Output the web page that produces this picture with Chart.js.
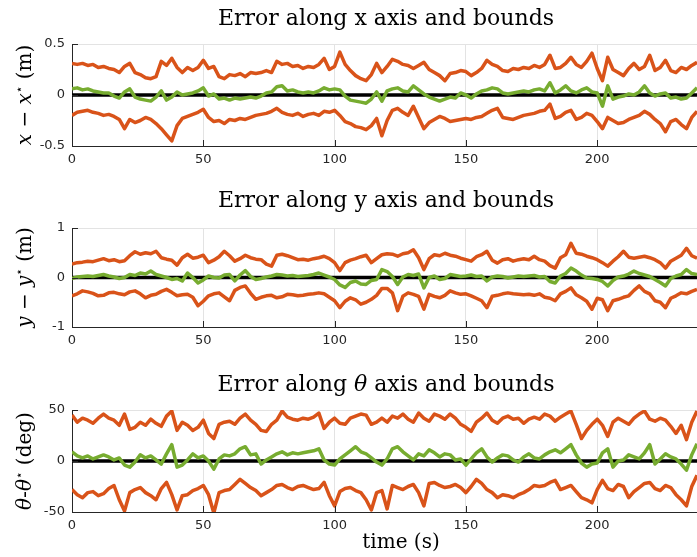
<!DOCTYPE html>
<html><head><meta charset="utf-8">
<script src="https://cdn.jsdelivr.net/npm/chart.js@4/dist/chart.umd.min.js"></script>
<style>
html,body{margin:0;padding:0;background:#fff;overflow:hidden}
#wrap{position:relative;width:697px;height:557px;background:#fff}
#wrap canvas{position:absolute;left:0;top:0}
</style></head><body>
<div id="wrap">
<canvas id="c1" width="697" height="557"></canvas>
<canvas id="c2" width="697" height="557"></canvas>
<canvas id="c3" width="697" height="557"></canvas>
</div>
<script>
// ---- data (time in s, sampled every 2 s) ----
const timeS = [0,2,4,6,8,10,12,14,16,18,20,22,24,26,28,30,32,34,36,38,40,42,44,46,48,50,52,54,56,58,60,62,64,66,68,70,72,74,76,78,80,82,84,86,88,90,92,94,96,98,100,102,104,106,108,110,112,114,116,118,120,122,124,126,128,130,132,134,136,138,140,142,144,146,148,150,152,154,156,158,160,162,164,166,168,170,172,174,176,178,180,182,184,186,188,190,192,194,196,198,200,202,204,206,208,210,212,214,216,218,220,222,224,226,228,230,232,234,236,238];
const zeroT = [0, 250];
const zeroV = [0, 0];
const xTickValues = [0, 50, 100, 150, 200];

// x error (m)
const xUpper = [0.31,0.30,0.31,0.29,0.30,0.27,0.28,0.26,0.25,0.22,0.28,0.31,0.22,0.20,0.17,0.16,0.18,0.33,0.29,0.36,0.27,0.22,0.27,0.24,0.27,0.34,0.26,0.28,0.18,0.16,0.20,0.19,0.21,0.18,0.22,0.21,0.22,0.24,0.22,0.33,0.30,0.31,0.28,0.29,0.26,0.28,0.27,0.30,0.36,0.25,0.28,0.42,0.30,0.24,0.19,0.16,0.14,0.20,0.31,0.22,
0.28,0.35,0.33,0.30,0.29,0.26,0.29,0.32,0.25,0.22,0.19,0.14,0.21,0.22,0.24,0.23,0.19,0.22,0.26,0.34,0.30,0.28,0.24,0.23,0.26,0.25,0.27,0.26,0.29,0.27,0.30,0.39,0.26,0.27,0.31,0.37,0.30,0.27,0.33,0.41,0.26,0.14,0.37,0.25,0.22,0.19,0.26,0.31,0.25,0.28,0.39,0.24,0.27,0.34,0.24,0.22,0.27,0.25,0.29,0.32];
const xErr = [0.06,0.07,0.05,0.06,0.04,0.03,0.02,0.02,-0.01,-0.03,0.03,0.06,-0.02,-0.04,-0.05,-0.06,-0.02,0.04,-0.05,-0.02,0.03,0.00,0.01,0.02,0.04,0.07,-0.01,0.01,-0.04,-0.03,-0.05,-0.03,-0.04,-0.03,-0.02,-0.03,-0.01,0.02,0.03,0.08,0.09,0.04,0.05,0.03,0.02,0.03,0.02,0.04,0.07,0.05,0.06,0.05,-0.01,-0.05,-0.06,-0.07,-0.08,-0.04,0.03,-0.06,
0.04,0.06,0.07,0.04,0.03,0.09,0.05,0.01,-0.02,-0.04,-0.06,-0.04,-0.02,-0.03,0.02,0.00,-0.03,0.01,0.04,0.05,0.07,0.06,0.02,0.01,0.02,0.03,0.04,0.03,0.05,0.06,0.04,0.12,0.02,0.05,0.09,0.04,0.02,0.05,0.07,0.03,0.02,-0.11,0.09,-0.04,-0.02,-0.01,0.01,0.00,0.03,0.09,0.02,-0.01,0.01,0.02,-0.03,-0.02,-0.04,-0.03,0.02,0.07];
const xLower = [-0.20,-0.17,-0.16,-0.15,-0.17,-0.18,-0.20,-0.19,-0.21,-0.24,-0.33,-0.24,-0.27,-0.25,-0.22,-0.24,-0.28,-0.33,-0.39,-0.45,-0.30,-0.23,-0.21,-0.19,-0.17,-0.14,-0.22,-0.26,-0.25,-0.28,-0.24,-0.25,-0.23,-0.24,-0.22,-0.20,-0.19,-0.18,-0.16,-0.13,-0.17,-0.19,-0.20,-0.18,-0.21,-0.19,-0.18,-0.20,-0.16,-0.17,-0.15,-0.20,-0.26,-0.28,-0.31,-0.32,-0.34,-0.30,-0.23,-0.40,
-0.25,-0.15,-0.13,-0.17,-0.20,-0.11,-0.22,-0.33,-0.27,-0.24,-0.21,-0.23,-0.26,-0.25,-0.24,-0.23,-0.24,-0.22,-0.21,-0.18,-0.15,-0.13,-0.22,-0.23,-0.24,-0.22,-0.20,-0.19,-0.18,-0.16,-0.15,-0.09,-0.23,-0.21,-0.17,-0.15,-0.24,-0.22,-0.18,-0.20,-0.26,-0.33,-0.22,-0.25,-0.28,-0.27,-0.24,-0.22,-0.20,-0.16,-0.19,-0.24,-0.28,-0.36,-0.26,-0.24,-0.29,-0.33,-0.22,-0.16];
const xYTicks = [-0.5, 0, 0.5];

// y error (m)
const yUpper = [0.27,0.30,0.31,0.33,0.32,0.35,0.38,0.34,0.36,0.32,0.34,0.44,0.52,0.47,0.50,0.48,0.53,0.40,0.37,0.35,0.25,0.40,0.47,0.39,0.41,0.45,0.30,0.35,0.42,0.53,0.44,0.33,0.38,0.45,0.40,0.37,0.36,0.27,0.23,0.45,0.47,0.44,0.40,0.36,0.37,0.35,0.38,0.40,0.43,0.38,0.30,0.14,0.30,0.35,0.38,0.42,0.45,0.30,0.38,0.46,
0.48,0.47,0.43,0.48,0.50,0.56,0.40,0.16,0.38,0.46,0.44,0.49,0.45,0.43,0.39,0.36,0.33,0.42,0.46,0.53,0.35,0.29,0.36,0.38,0.33,0.36,0.38,0.36,0.43,0.36,0.33,0.24,0.19,0.40,0.46,0.69,0.49,0.47,0.43,0.40,0.36,0.30,0.23,0.33,0.42,0.53,0.41,0.39,0.41,0.43,0.40,0.36,0.30,0.19,0.33,0.39,0.45,0.59,0.44,0.39];
const yErr = [-0.02,0.01,0.02,0.03,0.02,0.04,0.06,0.03,0.01,-0.02,0.00,0.06,0.04,0.09,0.07,0.13,0.06,0.03,0.00,-0.04,-0.02,-0.07,0.09,0.00,-0.11,-0.05,0.03,0.00,-0.01,0.05,0.06,-0.07,0.05,0.14,0.02,-0.04,-0.02,0.01,0.03,0.06,0.05,0.03,0.04,0.02,0.03,0.04,0.06,0.09,0.05,0.01,-0.04,-0.15,-0.20,-0.10,-0.07,-0.13,-0.14,-0.06,-0.04,0.16,
0.12,0.02,-0.14,0.01,0.06,0.04,0.07,-0.21,0.00,0.03,-0.04,-0.02,0.06,0.04,0.02,0.03,0.05,0.02,0.03,-0.07,0.01,0.03,0.02,-0.01,0.01,0.03,0.02,0.03,0.04,0.01,0.02,-0.08,-0.11,0.03,0.08,0.19,0.13,0.05,-0.01,-0.02,-0.04,-0.08,-0.17,-0.06,0.01,0.03,0.07,0.13,0.08,0.05,0.02,-0.04,-0.10,-0.17,-0.02,0.03,0.06,0.16,0.08,0.06];
const yLower = [-0.37,-0.33,-0.27,-0.29,-0.32,-0.37,-0.36,-0.31,-0.30,-0.33,-0.35,-0.29,-0.27,-0.33,-0.41,-0.36,-0.34,-0.28,-0.24,-0.30,-0.37,-0.35,-0.34,-0.40,-0.57,-0.48,-0.37,-0.33,-0.31,-0.39,-0.47,-0.26,-0.20,-0.17,-0.32,-0.44,-0.40,-0.37,-0.36,-0.41,-0.39,-0.34,-0.35,-0.37,-0.36,-0.34,-0.33,-0.31,-0.33,-0.40,-0.47,-0.61,-0.48,-0.41,-0.45,-0.54,-0.50,-0.44,-0.36,-0.22,
-0.22,-0.31,-0.67,-0.38,-0.31,-0.34,-0.38,-0.64,-0.34,-0.38,-0.41,-0.36,-0.27,-0.31,-0.34,-0.33,-0.37,-0.42,-0.47,-0.61,-0.38,-0.36,-0.33,-0.31,-0.33,-0.34,-0.35,-0.34,-0.36,-0.33,-0.40,-0.42,-0.47,-0.33,-0.28,-0.21,-0.35,-0.41,-0.48,-0.64,-0.42,-0.45,-0.67,-0.47,-0.44,-0.40,-0.37,-0.26,-0.17,-0.28,-0.33,-0.47,-0.50,-0.61,-0.42,-0.37,-0.31,-0.33,-0.28,-0.24];
const yYTicks = [-1, 0, 1];

// theta error (deg)
const thUpper = [45,38,42,40,37,42,46,42,40,35,46,31,33,38,35,41,37,34,44,49,30,38,35,30,33,40,27,22,36,38,39,36,42,46,40,36,30,29,36,40,49,43,41,40,42,41,43,47,32,38,42,37,36,42,44,46,45,36,38,42,
38,44,42,46,41,38,47,42,39,46,44,41,46,42,36,33,29,38,42,47,40,37,42,44,41,42,37,41,43,41,46,44,39,43,46,49,36,22,30,36,41,35,24,38,42,39,36,42,46,49,41,39,42,40,34,27,35,21,38,49];
const thErr = [9,5,3,5,2,4,6,4,1,3,-4,-6,-1,6,3,5,1,-3,7,16,-6,-4,1,7,3,5,0,-8,2,6,5,7,12,14,6,7,-3,1,4,7,9,6,8,7,8,9,10,12,1,-3,-4,2,6,10,14,9,7,3,-1,-4,
2,12,14,9,5,1,7,5,11,8,4,7,6,1,2,-4,2,8,12,4,-1,3,6,5,1,-1,4,7,3,2,6,9,11,8,12,16,6,-2,-6,-3,-2,8,12,-6,0,1,6,4,2,8,16,-3,2,7,4,2,-3,-9,6,17];
const thLower = [-28,-33,-36,-31,-30,-34,-32,-27,-24,-38,-49,-31,-28,-26,-31,-34,-38,-27,-21,-33,-48,-34,-33,-29,-27,-24,-33,-51,-31,-29,-28,-23,-18,-22,-26,-29,-34,-31,-28,-24,-23,-26,-28,-25,-24,-26,-28,-27,-21,-34,-44,-30,-27,-26,-29,-31,-38,-48,-31,-29,
-47,-24,-26,-28,-25,-23,-31,-44,-22,-21,-24,-26,-25,-23,-26,-31,-25,-18,-22,-28,-31,-36,-33,-34,-36,-33,-31,-28,-24,-25,-24,-21,-19,-28,-26,-24,-30,-36,-38,-41,-28,-19,-27,-29,-23,-25,-36,-30,-26,-22,-21,-27,-29,-24,-26,-33,-38,-44,-25,-14];
const thYTicks = [-50, 0, 50];

// ---- styling ----
const ORANGE = '#D95319', GREEN = '#77AC30', AXIS = '#262626', GRID = '#e3e3e3';
const X_MAX = 238, XH = 20, YW = 72, H = 557;
const SERIF = '"DejaVu Serif", "Liberation Serif", serif';

function fontFor(style, size) {
  if (style === 'i') return 'italic ' + size + 'px ' + SERIF;
  if (style === 's') return Math.round(size * 0.62) + 'px "DejaVu Sans", ' + SERIF;
  return size + 'px ' + SERIF;
}
function drawSegs(ctx, segs, cx, cy, size) {
  let total = 0;
  const w = segs.map(([t, s]) => { ctx.font = fontFor(s, size); const m = ctx.measureText(t).width; total += m; return m; });
  let x = cx - total / 2;
  ctx.textAlign = 'left'; ctx.textBaseline = 'alphabetic'; ctx.fillStyle = '#000';
  segs.forEach(([t, s], i) => {
    ctx.font = fontFor(s, size);
    ctx.fillText(t, x, s === 's' ? cy - size * 0.42 : cy);
    x += w[i];
  });
}

const decor = {
  id: 'decor',
  afterDraw(chart, args, o) {
    const ctx = chart.ctx, a = chart.chartArea, xs = chart.scales.x, ys = chart.scales.y;
    ctx.save();
    ctx.strokeStyle = AXIS; ctx.lineWidth = 1;
    xs.ticks.forEach(t => {
      const px = Math.round(xs.getPixelForValue(t.value)) + 0.5;
      ctx.beginPath(); ctx.moveTo(px, a.bottom); ctx.lineTo(px, a.bottom - 6); ctx.stroke();
    });
    ys.ticks.forEach(t => {
      const py = Math.round(ys.getPixelForValue(t.value)) + 0.5;
      ctx.beginPath(); ctx.moveTo(a.left, py); ctx.lineTo(a.left + 6, py); ctx.stroke();
    });
    drawSegs(ctx, o.title, o.titleX, o.titleY, 22);
    ctx.save();
    ctx.translate(o.ylabX, (a.top + a.bottom) / 2);
    ctx.rotate(-Math.PI / 2);
    drawSegs(ctx, o.ylabel, 0, 0, 20);
    ctx.restore();
    if (o.xlabel) drawSegs(ctx, o.xlabel, o.xlabX, o.xlabY, 20);
    ctx.restore();
  }
};

function pts(vals) { return vals.map((v, i) => ({ x: timeS[i], y: v })); }

function makeChart(id, p) {
  const line = (data, color) => ({ data, borderColor: color, borderWidth: 3.5, borderJoinStyle: 'round', pointRadius: 0, tension: 0, fill: false, clip: 0 });
  return new Chart(document.getElementById(id), {
    type: 'line',
    data: {
      datasets: [
        line(pts(p.err), GREEN),
        line(zeroT.map((t, i) => ({ x: t, y: zeroV[i] })), '#000'),
        line(pts(p.upper), ORANGE),
        line(pts(p.lower), ORANGE)
      ]
    },
    options: {
      responsive: false, animation: false, devicePixelRatio: 1,
      layout: { padding: { top: p.top, bottom: H - p.bottom - XH, left: 0, right: 0 } },
      plugins: {
        legend: { display: false }, tooltip: { enabled: false }, title: { display: false },
        decor: { title: p.title, titleX: 386, titleY: p.titleY, ylabel: p.ylabel, ylabX: 31, xlabel: p.xlabel, xlabX: 401, xlabY: 548 }
      },
      scales: {
        x: {
          type: 'linear', min: 0, max: X_MAX,
          afterBuildTicks: s => { s.ticks = xTickValues.map(v => ({ value: v })); },
          afterFit: s => { s.height = XH; },
          grid: { color: GRID, drawTicks: false, lineWidth: 1 },
          border: { color: AXIS, width: 1 },
          ticks: { padding: 6, color: AXIS, font: { family: 'DejaVu Sans', size: 13 }, maxRotation: 0, autoSkip: false }
        },
        y: {
          type: 'linear', min: p.yTicks[0], max: p.yTicks[p.yTicks.length - 1],
          afterBuildTicks: s => { s.ticks = p.yTicks.map(v => ({ value: v })); },
          afterFit: s => { s.width = YW; },
          grid: { color: GRID, drawTicks: false, lineWidth: 1 },
          border: { color: AXIS, width: 1 },
          ticks: { padding: 7, color: AXIS, font: { family: 'DejaVu Sans', size: 13 } }
        }
      }
    },
    plugins: [decor]
  });
}

makeChart('c1', { top: 44, bottom: 146, titleY: 25, upper: xUpper, err: xErr, lower: xLower, yTicks: xYTicks,
  title: [['Error along x axis and bounds', 'n']],
  ylabel: [['x', 'i'], [' − ', 'n'], ['x', 'i'], ['⋆', 's'], [' (m)', 'n']] });
makeChart('c2', { top: 228, bottom: 327, titleY: 207, upper: yUpper, err: yErr, lower: yLower, yTicks: yYTicks,
  title: [['Error along y axis and bounds', 'n']],
  ylabel: [['y', 'i'], [' − ', 'n'], ['y', 'i'], ['⋆', 's'], [' (m)', 'n']] });
makeChart('c3', { top: 410, bottom: 512, titleY: 391, upper: thUpper, err: thErr, lower: thLower, yTicks: thYTicks,
  title: [['Error along ', 'n'], ['θ', 'i'], [' axis and bounds', 'n']],
  ylabel: [['θ', 'i'], ['-', 'n'], ['θ', 'i'], ['⋆', 's'], [' (deg)', 'n']],
  xlabel: [['time (s)', 'n']] });
</script>
</body></html>
